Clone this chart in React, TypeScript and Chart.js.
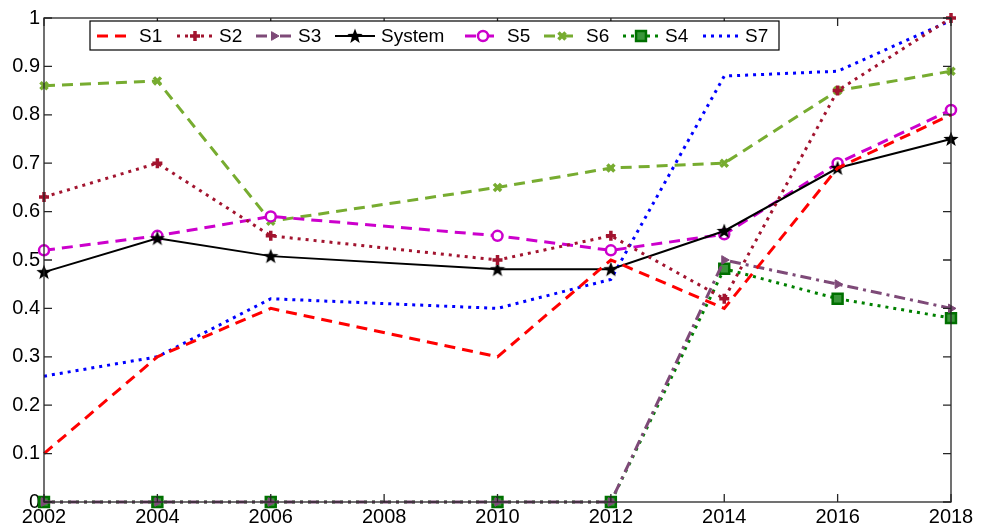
import React, { useEffect, useRef } from 'react';
import { Chart, registerables } from 'chart.js';
import { drawPoint } from 'chart.js/helpers';
Chart.register(...registerables);

const years = [2002, 2004, 2006, 2010, 2012, 2014, 2016, 2018];
const s1 = [0.1, 0.3, 0.4, 0.3, 0.5, 0.4, 0.69, 0.8];
const s2 = [0.63, 0.7, 0.55, 0.5, 0.55, 0.42, 0.85, 1.0];
const s3 = [0, 0, 0, 0, 0, 0.5, 0.45, 0.4];
const system = [0.475, 0.545, 0.508, 0.481, 0.481, 0.56, 0.69, 0.75];
const s5 = [0.52, 0.55, 0.59, 0.55, 0.52, 0.553, 0.7, 0.81];
const s6 = [0.86, 0.87, 0.58, 0.65, 0.69, 0.7, 0.85, 0.89];
const s4 = [0, 0, 0, 0, 0, 0.482, 0.42, 0.38];
const s7 = [0.26, 0.3, 0.42, 0.4, 0.46, 0.88, 0.89, 0.995];

const FONT = "'Liberation Sans', Arial, Helvetica, sans-serif";

function makeStar(size: number, color: string) {
  const c = document.createElement('canvas');
  c.width = size;
  c.height = size;
  const ctx = c.getContext('2d')!;
  const cx = size / 2, cy = size / 2 + 0.5;
  const R = size / 2, r = R * 0.42;
  ctx.beginPath();
  for (let i = 0; i < 10; i++) {
    const rad = i % 2 === 0 ? R : r;
    const a = -Math.PI / 2 + (i * Math.PI) / 5;
    const px = cx + rad * Math.cos(a);
    const py = cy + rad * Math.sin(a);
    if (i === 0) ctx.moveTo(px, py);
    else ctx.lineTo(px, py);
  }
  ctx.closePath();
  ctx.fillStyle = color;
  ctx.fill();
  return c;
}

const toPts = (arr: number[]) => arr.map((v, i) => ({ x: years[i], y: v }));

const framePlugin = {
  id: 'frame',
  afterDraw(chart: any) {
    const { ctx, chartArea: a } = chart;
    const xs = chart.scales.x, ys = chart.scales.y;
    ctx.save();
    ctx.setLineDash([]);
    ctx.lineWidth = 1.3;
    ctx.strokeStyle = '#262626';
    ctx.strokeRect(a.left, a.top, a.right - a.left, a.bottom - a.top);
    const L = 8;
    ctx.beginPath();
    for (let v = 2002; v <= 2018; v += 2) {
      const px = xs.getPixelForValue(v);
      ctx.moveTo(px, a.bottom);
      ctx.lineTo(px, a.bottom - L);
      ctx.moveTo(px, a.top);
      ctx.lineTo(px, a.top + L);
    }
    for (let k = 0; k <= 10; k++) {
      const py = ys.getPixelForValue(k / 10);
      ctx.moveTo(a.left, py);
      ctx.lineTo(a.left + L, py);
      ctx.moveTo(a.right, py);
      ctx.lineTo(a.right - L, py);
    }
    ctx.stroke();
    ctx.restore();
  },
};

const legendPlugin = {
  id: 'matlabLegend',
  afterDraw(chart: any) {
    const ctx = chart.ctx;
    const l = 90, t = 21, r = 779, b = 50;
    ctx.save();
    ctx.fillStyle = '#fff';
    ctx.fillRect(l, t, r - l, b - t);
    ctx.setLineDash([]);
    ctx.strokeStyle = '#000';
    ctx.lineWidth = 1.2;
    ctx.strokeRect(l, t, r - l, b - t);
    const starts = [97, 177, 256, 335, 465, 544, 623, 703];
    const y = 36;
    ctx.font = `19px ${FONT}`;
    ctx.textBaseline = 'middle';
    chart.data.datasets.forEach((ds: any, i: number) => {
      const x0 = starts[i];
      const len = ds.label === 'System' ? 40 : 36;
      ctx.save();
      ctx.setLineDash(ds.borderDash || []);
      ctx.strokeStyle = ds.borderColor;
      ctx.lineWidth = ds.borderWidth;
      ctx.beginPath();
      ctx.moveTo(x0, y);
      ctx.lineTo(x0 + len, y);
      ctx.stroke();
      ctx.setLineDash([]);
      if (ds.pointRadius > 0) {
        ctx.fillStyle = ds.pointBackgroundColor;
        ctx.strokeStyle = ds.pointBorderColor;
        ctx.lineWidth = ds.pointBorderWidth;
        drawPoint(ctx, {
          pointStyle: ds.pointStyle,
          rotation: ds.pointRotation || 0,
          radius: ds.pointRadius,
          borderWidth: ds.pointBorderWidth,
        }, x0 + len / 2, y);
      }
      ctx.restore();
      ctx.fillStyle = '#000';
      ctx.fillText(ds.label, x0 + len + 6, y + 1);
    });
    ctx.restore();
  },
};

export default function App() {
  const ref = useRef<HTMLCanvasElement>(null);
  useEffect(() => {
    const star = makeStar(16, '#000');
    const base = {
      fill: false,
      tension: 0,
      clip: false as any,
      borderWidth: 3,
      borderCapStyle: 'butt',
      pointBorderWidth: 2,
    };
    const chart = new Chart(ref.current!, {
      type: 'line',
      data: {
        datasets: [
          { ...base, label: 'S1', data: toPts(s1), borderColor: '#ff0000', borderDash: [11, 7], pointRadius: 0, pointStyle: false },
          { ...base, label: 'S2', data: toPts(s2), borderColor: '#a2142f', borderDash: [3, 5], pointStyle: 'cross', pointRadius: 5, pointBorderWidth: 3.5, pointBorderColor: '#a2142f', pointBackgroundColor: '#a2142f' },
          { ...base, label: 'S3', data: toPts(s3), borderColor: '#7e4a78', borderDash: [11, 5, 3, 5], pointStyle: 'triangle', pointRotation: 90, pointRadius: 5, pointBorderWidth: 1, pointBorderColor: '#7e4a78', pointBackgroundColor: '#7e4a78' },
          { ...base, label: 'System', data: toPts(system), borderColor: '#000', borderWidth: 2, pointStyle: star, pointRadius: 8, pointBorderColor: '#000', pointBackgroundColor: '#000' },
          { ...base, label: 'S5', data: toPts(s5), borderColor: '#cc00cc', borderDash: [11, 7], pointStyle: 'circle', pointRadius: 5, pointBorderWidth: 2.5, pointBorderColor: '#cc00cc', pointBackgroundColor: '#ffffff' },
          { ...base, label: 'S6', data: toPts(s6), borderColor: '#77ac30', borderDash: [11, 7], pointStyle: 'crossRot', pointRadius: 5, pointBorderWidth: 3.5, pointBorderColor: '#77ac30', pointBackgroundColor: '#77ac30' },
          { ...base, label: 'S4', data: toPts(s4), borderColor: '#008000', borderDash: [3, 5], pointStyle: 'rect', pointRadius: 7, pointBorderWidth: 2.5, pointBorderColor: '#007000', pointBackgroundColor: '#3a963a' },
          { ...base, label: 'S7', data: toPts(s7), borderColor: '#0000ff', borderDash: [3, 5], pointRadius: 0, pointStyle: false },
        ] as any,
      },
      options: {
        responsive: false,
        animation: false,
        devicePixelRatio: 1,
        layout: { padding: { top: 18, right: 37, left: 0, bottom: 0 } },
        plugins: { legend: { display: false }, tooltip: { enabled: false } },
        elements: { point: { hoverRadius: 5 } },
        scales: {
          x: {
            type: 'linear',
            min: 2002,
            max: 2018,
            grid: { display: false, drawTicks: false },
            border: { display: false },
            ticks: {
              stepSize: 2,
              color: '#000',
              font: { family: FONT, size: 20 },
              padding: 3,
              maxRotation: 0,
              callback: (v: any) => String(v),
            },
            afterFit: (s: any) => { s.height = 24; },
          },
          y: {
            type: 'linear',
            min: 0,
            max: 1,
            grid: { display: false, drawTicks: false },
            border: { display: false },
            ticks: {
              stepSize: 0.1,
              color: '#000',
              font: { family: FONT, size: 20 },
              padding: 4,
              callback: (v: any) => String(Math.round(Number(v) * 10) / 10),
            },
            afterFit: (s: any) => { s.width = 44; },
          },
        },
      } as any,
      plugins: [framePlugin, legendPlugin],
    });
    return () => chart.destroy();
  }, []);
  return (
    <div style={{ position: 'absolute', left: 0, top: 0, width: 988, height: 526, background: '#fff' }}>
      <canvas ref={ref} width={988} height={526} />
    </div>
  );
}
